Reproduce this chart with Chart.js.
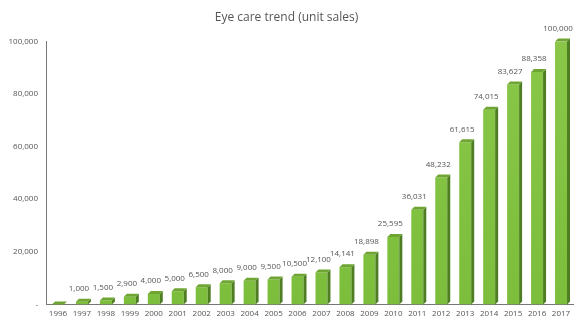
<!DOCTYPE html>
<html>
<head>
<meta charset="utf-8">
<script src="https://cdn.jsdelivr.net/npm/chart.js@4/dist/chart.umd.min.js"></script>
<style>
  body { margin: 0; background: #fff; }
  #wrap { width: 578px; height: 324px; }
</style>
</head>
<body>
<div id="wrap"><canvas id="chart" width="578" height="324"></canvas></div>
<script>
const years = ["1996", "1997", "1998", "1999", "2000", "2001", "2002", "2003", "2004", "2005", "2006",
  "2007", "2008", "2009", "2010", "2011", "2012", "2013", "2014", "2015", "2016", "2017"];
const sales = [0, 1000, 1500, 2900, 4000, 5000, 6500, 8000, 9000, 9500, 10500,
  12100, 14141, 18898, 25595, 36031, 48232, 61615, 74015, 83627, 88358, 100000];
const yTicks = [0, 20000, 40000, 60000, 80000, 100000];

const fmt = (v) => v.toLocaleString("en-US");

// fake 3d: dark side face + top face, then the value label
const bar3d = {
  id: "bar3d",
  afterDatasetsDraw(chart) {
    const ctx = chart.ctx;
    const meta = chart.getDatasetMeta(0);
    const d = 3;
    meta.data.forEach((bar, i) => {
      const left = bar.x - bar.width / 2;
      const right = bar.x + bar.width / 2;
      const top = bar.y;
      const base = bar.base;
      ctx.save();
      ctx.fillStyle = "#4e7d22";
      ctx.beginPath();
      ctx.moveTo(right, base);
      ctx.lineTo(right, top);
      ctx.lineTo(right + d, top - d);
      ctx.lineTo(right + d, base - d);
      ctx.closePath();
      ctx.fill();
      ctx.fillStyle = "#6fa533";
      ctx.beginPath();
      ctx.moveTo(left, top);
      ctx.lineTo(left + d, top - d);
      ctx.lineTo(right + d, top - d);
      ctx.lineTo(right, top);
      ctx.closePath();
      ctx.fill();
      if (sales[i] > 0) {
        ctx.fillStyle = "#555";
        ctx.font = "8px 'Open Sans', sans-serif";
        ctx.textAlign = "center";
        ctx.textBaseline = "bottom";
        ctx.fillText(fmt(sales[i]), bar.x - 3, top - 9);
      }
      ctx.restore();
    });
  }
};

const ctx = document.getElementById("chart").getContext("2d");
const grad = ctx.createLinearGradient(0, 0, 0, 324);
grad.addColorStop(0, "#8cc84b");
grad.addColorStop(1, "#7bbd3a");

new Chart(ctx, {
  type: "bar",
  data: {
    labels: years,
    datasets: [{
      data: sales,
      backgroundColor: grad,
      barPercentage: 0.5,
      categoryPercentage: 1
    }]
  },
  options: {
    responsive: false,
    animation: false,
    layout: { padding: { top: 0, right: 5, left: 0, bottom: 0 } },
    plugins: {
      legend: { display: false },
      tooltip: { enabled: false },
      title: {
        display: true,
        text: "Eye care trend (unit sales)",
        color: "#555",
        font: { family: "'Open Sans', sans-serif", size: 12, weight: "normal" },
        padding: { top: 10, bottom: 17 }
      }
    },
    scales: {
      x: {
        grid: { display: false, drawTicks: false },
        border: { color: "#777", width: 1 },
        ticks: {
          color: "#555",
          font: { family: "'Open Sans', sans-serif", size: 8 },
          padding: 5,
          maxRotation: 0,
          autoSkip: false
        }
      },
      y: {
        min: 0,
        max: 100000,
        afterFit(scale) { scale.width = 46; },
        afterBuildTicks(scale) { scale.ticks = yTicks.map((v) => ({ value: v })); },
        grid: { display: false, drawTicks: false },
        border: { color: "#777", width: 1 },
        ticks: {
          color: "#555",
          font: { family: "'Open Sans', sans-serif", size: 8 },
          padding: 8,
          callback: (v) => (v === 0 ? "-" : fmt(v))
        }
      }
    }
  },
  plugins: [bar3d]
});
</script>
</body>
</html>
